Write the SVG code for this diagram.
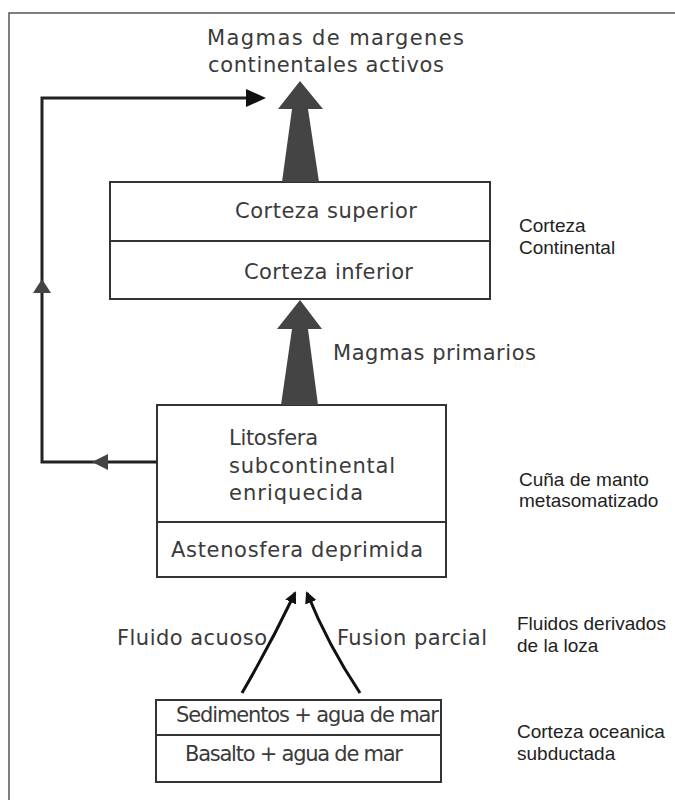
<svg xmlns="http://www.w3.org/2000/svg" width="675" height="800" viewBox="0 0 675 800">
<defs>
<style>
.frame{fill:none;stroke:#555;stroke-width:1.5}
.box{fill:#fff;stroke:#333;stroke-width:2}
.div{stroke:#333;stroke-width:2}
.g{font-family:"DejaVu Sans","Open Sans",sans-serif;font-size:21px;fill:#3a3a3a}
.a{font-family:"Liberation Sans",Arial,sans-serif;font-size:19px;fill:#222}
.line{fill:none;stroke:#222;stroke-width:3}
.curve{fill:none;stroke:#111;stroke-width:3}
.big{fill:#444}
.head{fill:#444}
</style>
<marker id="ah" viewBox="0 0 12 12" refX="10" refY="6" markerWidth="12" markerHeight="12" markerUnits="userSpaceOnUse" orient="auto">
<path d="M0,0 L12,6 L0,12 Z" fill="#111"/>
</marker>
</defs>
<rect width="675" height="800" fill="#fff"/>
<path class="frame" d="M9,800 V13 H675"/>

<g id="title">
<text class="g" x="207" y="45" font-size="22" textLength="257">Magmas de margenes</text>
<text class="g" x="208" y="72" font-size="22" textLength="236">continentales activos</text>
</g>

<g id="corteza-continental">
<rect class="box" x="110" y="182" width="380" height="117"/>
<line class="div" x1="110" y1="241" x2="490" y2="241"/>
<text class="g" x="235" y="218" textLength="182">Corteza superior</text>
<text class="g" x="244" y="279" textLength="169">Corteza inferior</text>
</g>

<g id="manto">
<rect class="box" x="157" y="405" width="289" height="172"/>
<line class="div" x1="157" y1="522" x2="446" y2="522"/>
<text class="g" x="229" y="445" textLength="89">Litosfera</text>
<text class="g" x="229" y="473" textLength="166">subcontinental</text>
<text class="g" x="229" y="500" textLength="134">enriquecida</text>
<text class="g" x="171" y="557" font-size="22" textLength="252">Astenosfera deprimida</text>
</g>

<g id="corteza-oceanica">
<rect class="box" x="156" y="700" width="285" height="82"/>
<line class="div" x1="156" y1="735" x2="441" y2="735"/>
<text class="g" x="176" y="722" font-size="19" textLength="263">Sedimentos + agua de mar</text>
<text class="g" x="185" y="761" font-size="19" textLength="218">Basalto + agua de mar</text>
</g>

<g id="labels">
<text class="g" x="333" y="360" textLength="203">Magmas primarios</text>
<text class="g" x="117" y="645" textLength="150">Fluido acuoso</text>
<text class="g" x="337" y="645" textLength="150">Fusion parcial</text>
<text class="a" x="519" y="232">Corteza</text>
<text class="a" x="519" y="254">Continental</text>
<text class="a" x="519" y="486">Cuña de manto</text>
<text class="a" x="519" y="507">metasomatizado</text>
<text class="a" x="517" y="630">Fluidos derivados</text>
<text class="a" x="517" y="652">de la loza</text>
<text class="a" x="517" y="738">Corteza oceanica</text>
<text class="a" x="517" y="760">subductada</text>
</g>

<g id="connectors">
<polygon class="big" points="300,81 323,109 308,109 319,182 282,182 292,109 278,109"/>
<polygon class="big" points="300,300 322,329 308,329 318,405 281,405 292,329 277,329"/>
<path class="line" d="M157,462 H42 V98 H250"/>
<polygon fill="#111" points="246,89 266,98 246,107"/>
<polygon class="head" points="42,279 51,293 33,293"/>
<polygon class="head" points="92,462 108,454 108,470"/>
<path class="curve" d="M242,693 Q270,645 295,593" marker-end="url(#ah)"/>
<path class="curve" d="M360,693 Q328,645 307,593" marker-end="url(#ah)"/>
</g>
</svg>
